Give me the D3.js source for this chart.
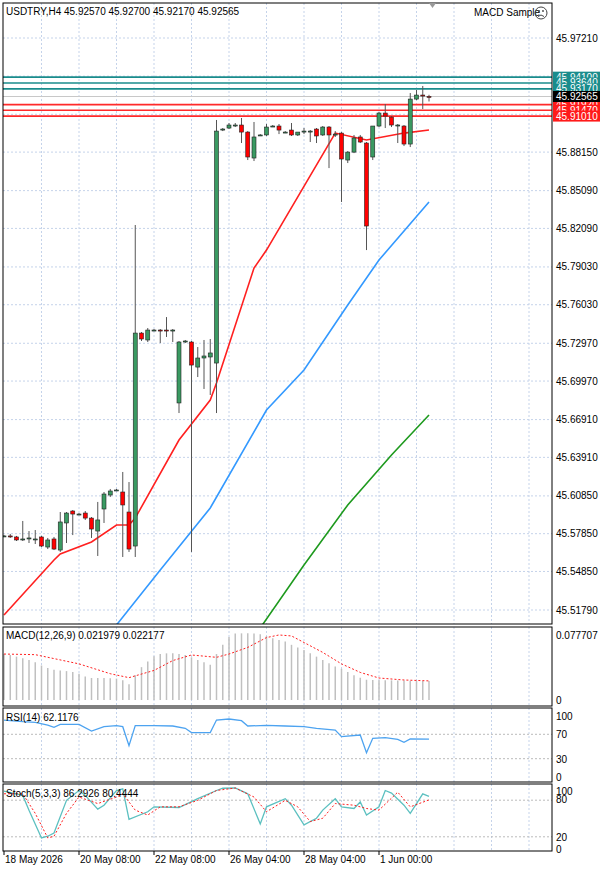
<!DOCTYPE html>
<html><head><meta charset="utf-8">
<script src="https://cdn.jsdelivr.net/npm/d3@7/dist/d3.min.js"></script>
<style>body{margin:0;background:#fff}svg{display:block}text{font-family:"Liberation Sans",Arial,sans-serif}</style>
</head><body><svg id="c" width="600" height="871"></svg>
<script>
// ---- data ----
const candles = [ // [open, high, low, close]
[45.5767,45.5775,45.5759,45.5767],[45.5767,45.5783,45.5751,45.5763],[45.5759,45.5767,45.5727,45.5735],[45.5743,45.5886,45.5727,45.5743],
[45.5751,45.5806,45.5711,45.5751],[45.5743,45.5814,45.5703,45.5743],[45.5759,45.5767,45.5679,45.5687],[45.5679,45.5751,45.5663,45.5735],
[45.5743,45.5759,45.5655,45.5663],[45.5655,45.5957,45.5640,45.5878],[45.5870,45.5957,45.5711,45.5949],[45.5965,45.5973,45.5774,45.5941],
[45.5941,45.5949,45.5933,45.5941],[45.5949,45.5965,45.5894,45.5909],[45.5909,45.5917,45.5751,45.5822],[45.5806,45.6037,45.5608,45.5894],
[45.5981,45.6116,45.5870,45.6100],[45.6092,45.6140,45.6076,45.6124],[45.6132,45.6140,45.6124,45.6132],[45.6116,45.6275,45.5600,45.6013],
[45.5957,45.6195,45.5640,45.5663],[45.5687,45.8236,45.5600,45.7378],[45.7378,45.7386,45.7315,45.7331],[45.7323,45.7418,45.7307,45.7402],
[45.7402,45.7410,45.7394,45.7402],[45.7402,45.7410,45.7299,45.7398],[45.7402,45.7505,45.7347,45.7398],[45.7398,45.7410,45.7307,45.7402],
[45.6823,45.7315,45.6743,45.7307],[45.7307,45.7323,45.7299,45.7315],[45.7307,45.7315,45.5640,45.7124],[45.7108,45.7267,45.7029,45.7180],
[45.7180,45.7323,45.6934,45.7196],[45.7188,45.7331,45.6886,45.7220],[45.7140,45.9070,45.6743,45.8982],[45.8990,45.9006,45.8982,45.8998],
[45.9006,45.9046,45.8998,45.9030],[45.9030,45.9046,45.9014,45.9030],[45.9030,45.9086,45.8887,45.8974],[45.8974,45.8982,45.8752,45.8776],
[45.8768,45.9054,45.8744,45.8935],[45.8951,45.8958,45.8943,45.8951],[45.8951,45.9038,45.8943,45.9014],[45.9022,45.9030,45.9014,45.9022],
[45.9022,45.9038,45.8958,45.8990],[45.8974,45.8982,45.8966,45.8974],[45.8990,45.9046,45.8943,45.8951],[45.8951,45.8966,45.8943,45.8974],
[45.8982,45.9006,45.8958,45.8982],[45.8982,45.8990,45.8895,45.8982],[45.8998,45.9006,45.8887,45.8943],[45.8951,45.9022,45.8943,45.9014],
[45.9014,45.9022,45.8688,45.8951],[45.8951,45.8982,45.8935,45.8958],[45.8966,45.8974,45.8419,45.8760],[45.8752,45.8823,45.8728,45.8815],
[45.8815,45.8951,45.8807,45.8927],[45.8935,45.8951,45.8887,45.8895],[45.8887,45.8895,45.8037,45.8228],[45.8776,45.9022,45.8752,45.9022],
[45.9022,45.9133,45.9014,45.9125],[45.9125,45.9197,45.9006,45.9101],[45.9093,45.9101,45.9014,45.9030],[45.9030,45.9038,45.8887,45.9030],
[45.9022,45.9030,45.8863,45.8879],[45.8879,45.9284,45.8855,45.9236],[45.9236,45.9308,45.9228,45.9268],[45.9268,45.9340,45.9157,45.9260],
[45.9257,45.9270,45.9217,45.92565]];
const maRed = [[0,45.5139],[8,45.5576],[9,45.5624],[14,45.5719],[18,45.5854],[20,45.5854],[21,45.5909],[28,45.6529],[33,45.6846],[34,45.6981],[40,45.7894],[42,45.8037],[53,45.8966],[58,45.8911],[64,45.8966],[68,45.8990]];
const maBlue = [[18,45.5060],[25,45.5497],[33,45.5989],[42,45.6767],[48,45.7085],[55,45.7601],[60,45.7958],[68,45.8419]];
const maGreen = [[41,45.5036],[48,45.5536],[55,45.6013],[62,45.6410],[68,45.6727]];
const priceTicks = [45.97210,45.94180,45.91150,45.88150,45.85090,45.82090,45.79030,45.76030,45.72970,45.69970,45.66910,45.63910,45.60850,45.57850,45.54850,45.51790];
const tealLevels = [45.94100,45.93640,45.93170];
const redLevels = [45.91920,45.91470,45.91010];
const lastPrice = 45.92565;
const macdHist = [0.0533,0.0522,0.0503,0.0484,0.0465,0.0438,0.0400,0.0370,0.0351,0.0343,0.0335,0.0324,0.0305,0.0274,0.0255,0.0255,0.0255,0.0251,0.0248,0.0229,0.0183,0.0286,0.0381,0.0446,0.0507,0.0533,0.0541,0.0541,0.0533,0.0522,0.0495,0.0465,0.0438,0.0408,0.0533,0.0640,0.0732,0.0770,0.0773,0.0773,0.0770,0.0762,0.0743,0.0716,0.0697,0.0678,0.0640,0.0610,0.0579,0.0541,0.0503,0.0465,0.0427,0.0389,0.0362,0.0324,0.0286,0.0259,0.0235,0.0232,0.0230,0.0229,0.0228,0.0226,0.0225,0.0224,0.0222,0.0221,0.021979];
const macdSignal = [[0,0.0533],[5,0.0526],[12,0.0419],[17,0.0305],[20,0.0259],[24,0.0343],[27,0.0457],[30,0.0522],[34,0.0495],[36,0.0533],[39,0.0610],[42,0.0724],[44,0.0754],[46,0.0743],[48,0.0667],[51,0.0552],[54,0.0419],[57,0.0320],[60,0.0255],[64,0.0232],[68,0.022177]];
const rsi = [[0,93.4],[3,90.7],[5,89.6],[7,85.2],[8,81.4],[9,86.3],[12,86.3],[14,75.4],[16,82.5],[18,84.2],[19,82.5],[20,51.4],[21,84.2],[24,84.2],[27,83.6],[29,79.8],[30,72.7],[33,72.7],[34,93.4],[36,95.1],[38,92.3],[39,83.6],[42,84.7],[45,83.6],[48,82.5],[50,79.8],[53,77.0],[54,66.1],[57,68.8],[58,39.8],[59,63.4],[61,64.5],[63,61.7],[64,56.8],[65,62.5],[68,62.1176]];
const stochMain = [[0,94.8],[3,87.9],[4,63.7],[6,18.2],[7,20.9],[8,26.2],[10,79.8],[12,95.9],[13,87.9],[15,65.4],[16,71.8],[18,95.9],[19,98.6],[20,48.7],[23,61.1],[24,69.1],[28,68.0],[31,82.5],[34,95.9],[35,99.6],[37,100],[39,90.5],[41,41.2],[42,69.1],[45,82.5],[46,71.8],[48,39.6],[50,50.4],[51,63.7],[53,82.5],[54,69.1],[56,66.4],[57,77.1],[58,55.7],[60,69.1],[61,95.9],[62,91.6],[64,71.8],[65,58.4],[67,90.5],[68,86.2926]];
const stochSignal = [[0,90.5],[3,90.5],[5,58.4],[7,18.2],[8,20.9],[10,58.4],[12,85.2],[15,74.5],[18,85.2],[19,90.5],[21,63.7],[23,55.7],[25,69.1],[28,69.1],[31,79.8],[34,95.9],[37,100],[40,85.2],[42,61.1],[45,79.8],[47,69.1],[49,45.0],[51,50.4],[53,74.5],[56,71.8],[58,66.4],[60,63.7],[63,93.2],[65,69.1],[68,80.4444]];
const dateLabels = [[0,"18 May 2026"],[12,"20 May 08:00"],[24,"22 May 08:00"],[36,"26 May 04:00"],[48,"28 May 04:00"],[60,"1 Jun 00:00"]];
const rsiLevels=[100,70,30,0], stochLevels=[100,80,20,0];

// ---- layout ----
const svg=d3.select("#c");
const L=3,R=552, FS=10;
const x=d3.scaleLinear().domain([0,68]).range([4,429]);
const yP=d3.scaleLinear().domain([45.5179,45.9721]).range([610,38]);
const yM=d3.scaleLinear().domain([0,0.077707]).range([700,633]);
const yR=d3.scaleLinear().domain([0,100]).range([777,716]);
const yS=d3.scaleLinear().domain([0,100]).range([849,788]);
const panels=[[3,624],[627,706],[708,782],[784,851]];
const grid="#c5d3ea";
const defs=svg.append("defs");
panels.forEach((p,k)=>defs.append("clipPath").attr("id","cp"+k).append("rect").attr("x",L).attr("y",p[0]).attr("width",R-L).attr("height",p[1]-p[0]));
const vIdx=d3.range(6,90,6).filter(i=>x(i)<R-2);
panels.forEach(p=>{
  svg.append("g").selectAll("line").data(vIdx).join("line")
   .attr("x1",d=>x(d)).attr("x2",d=>x(d)).attr("y1",p[0]).attr("y2",p[1]).attr("stroke",grid).attr("stroke-dasharray","2,2");
});
const boxed=[...tealLevels,...redLevels,lastPrice];
svg.append("g").selectAll("line").data(priceTicks).join("line").attr("x1",L).attr("x2",R)
 .attr("y1",d=>yP(d)).attr("y2",d=>yP(d)).attr("stroke",grid).attr("stroke-dasharray","2,2");
svg.append("g").selectAll("text").data(priceTicks.filter(t=>boxed.every(b=>Math.abs(yP(b)-yP(t))>9))).join("text")
 .attr("x",556).attr("y",d=>yP(d)+3.5).attr("font-size",FS).attr("fill","#000").text(d=>d.toFixed(5));
const gm=svg.append("g").attr("clip-path","url(#cp0)");
const lineF=(ys)=>d3.line().x(d=>x(d[0])).y(d=>ys(d[1]));
gm.append("line").attr("x1",L).attr("x2",R).attr("y1",yP(lastPrice)).attr("y2",yP(lastPrice)).attr("stroke","#c8c8c8");
tealLevels.forEach(v=>gm.append("line").attr("x1",L).attr("x2",R).attr("y1",yP(v)).attr("y2",yP(v)).attr("stroke","#1a8c8c").attr("stroke-width",1.6));
redLevels.forEach(v=>gm.append("line").attr("x1",L).attr("x2",R).attr("y1",yP(v)).attr("y2",yP(v)).attr("stroke","#ff2a2a").attr("stroke-width",1.6));
gm.append("path").attr("d",lineF(yP)(maGreen)).attr("fill","none").attr("stroke","#1e9a1e").attr("stroke-width",1.6);
gm.append("path").attr("d",lineF(yP)(maBlue)).attr("fill","none").attr("stroke","#3399ff").attr("stroke-width",1.6);
gm.append("path").attr("d",lineF(yP)(maRed)).attr("fill","none").attr("stroke","#ff2020").attr("stroke-width",1.6);
const cg=gm.selectAll("g.c").data(candles).join("g");
cg.append("line").attr("x1",(d,i)=>x(i)).attr("x2",(d,i)=>x(i)).attr("y1",d=>yP(d[1])).attr("y2",d=>yP(d[2])).attr("stroke","#555");
cg.append("rect").attr("x",(d,i)=>x(i)-2).attr("width",4)
 .attr("y",d=>yP(Math.max(d[0],d[3]))).attr("height",d=>Math.max(1,Math.abs(yP(d[0])-yP(d[3]))))
 .attr("fill",d=>d[3]>=d[0]?"#3a9a62":"#ff0000").attr("stroke","#222").attr("stroke-width",0.6);
const box=(v,col)=>{svg.append("rect").attr("x",553).attr("y",yP(v)-5.5).attr("width",47).attr("height",11).attr("fill",col);
 svg.append("text").attr("x",556).attr("y",yP(v)+3.5).attr("font-size",FS).attr("fill","#fff").text(v.toFixed(5));};
tealLevels.forEach(v=>box(v,"#1a8c8c")); redLevels.forEach(v=>box(v,"#ff1a1a")); box(lastPrice,"#000");
// MACD
const g1=svg.append("g").attr("clip-path","url(#cp1)");
g1.selectAll("line").data(macdHist).join("line").attr("x1",(d,i)=>x(i)).attr("x2",(d,i)=>x(i)).attr("y1",yM(0)).attr("y2",d=>yM(d)).attr("stroke","#c0c0c0").attr("stroke-width",1.5);
g1.append("path").attr("d",lineF(yM)(macdSignal)).attr("fill","none").attr("stroke","#ff2020").attr("stroke-dasharray","2,2");
svg.append("text").attr("x",556).attr("y",yM(0.077707)+6).attr("font-size",FS).text("0.077707");
svg.append("text").attr("x",556).attr("y",yM(0)+4).attr("font-size",FS).text("0");
svg.append("text").attr("x",6).attr("y",639).attr("font-size",FS).text("MACD(12,26,9) 0.021979 0.022177");
// RSI
const g2=svg.append("g").attr("clip-path","url(#cp2)");
[70,30].forEach(v=>g2.append("line").attr("x1",L).attr("x2",R).attr("y1",yR(v)).attr("y2",yR(v)).attr("stroke","#bbb").attr("stroke-dasharray","2,2"));
g2.append("path").attr("d",lineF(yR)(rsi)).attr("fill","none").attr("stroke","#4da3f0").attr("stroke-width",1.3);
rsiLevels.forEach(v=>svg.append("text").attr("x",556).attr("y",yR(v)+4).attr("font-size",FS).text(v));
svg.append("text").attr("x",6).attr("y",721).attr("font-size",FS).text("RSI(14) 62.1176");
// Stoch
const g3=svg.append("g").attr("clip-path","url(#cp3)");
[80,20].forEach(v=>g3.append("line").attr("x1",L).attr("x2",R).attr("y1",yS(v)).attr("y2",yS(v)).attr("stroke","#bbb").attr("stroke-dasharray","2,2"));
g3.append("path").attr("d",lineF(yS)(stochMain)).attr("fill","none").attr("stroke","#5cc0c0").attr("stroke-width",1.3);
g3.append("path").attr("d",lineF(yS)(stochSignal)).attr("fill","none").attr("stroke","#ff2020").attr("stroke-dasharray","2,2");
stochLevels.forEach((v,k)=>svg.append("text").attr("x",556).attr("y",yS(v)+(k==0?7:k==1?3:4)).attr("font-size",FS).text(v));
svg.append("text").attr("x",6).attr("y",797).attr("font-size",FS).text("Stoch(5,3,3) 86.2926 80.4444");
panels.forEach(p=>svg.append("rect").attr("x",L).attr("y",p[0]).attr("width",R-L).attr("height",p[1]-p[0]).attr("fill","none").attr("stroke","#000"));
dateLabels.forEach(d=>{svg.append("line").attr("x1",x(d[0])).attr("x2",x(d[0])).attr("y1",851).attr("y2",855).attr("stroke","#000");
 svg.append("text").attr("x",x(d[0])+1).attr("y",863).attr("font-size",FS).text(d[1]);});
svg.append("text").attr("x",6).attr("y",15).attr("font-size",FS).text("USDTRY,H4  45.92570 45.92700 45.92170 45.92565");
svg.append("text").attr("x",474).attr("y",16).attr("font-size",FS).text("MACD Sample");
svg.append("circle").attr("cx",541).attr("cy",13).attr("r",6).attr("fill","none").attr("stroke","#444");
svg.append("circle").attr("cx",539).attr("cy",11).attr("r",0.9).attr("fill","#444");
svg.append("circle").attr("cx",543).attr("cy",11).attr("r",0.9).attr("fill","#444");
svg.append("path").attr("d","M538,16.5 Q541,13.5 544,16.5").attr("fill","none").attr("stroke","#444");
svg.append("path").attr("d","M429,3 L436,3 L432.5,8 Z").attr("fill","#999");
</script></body></html>
